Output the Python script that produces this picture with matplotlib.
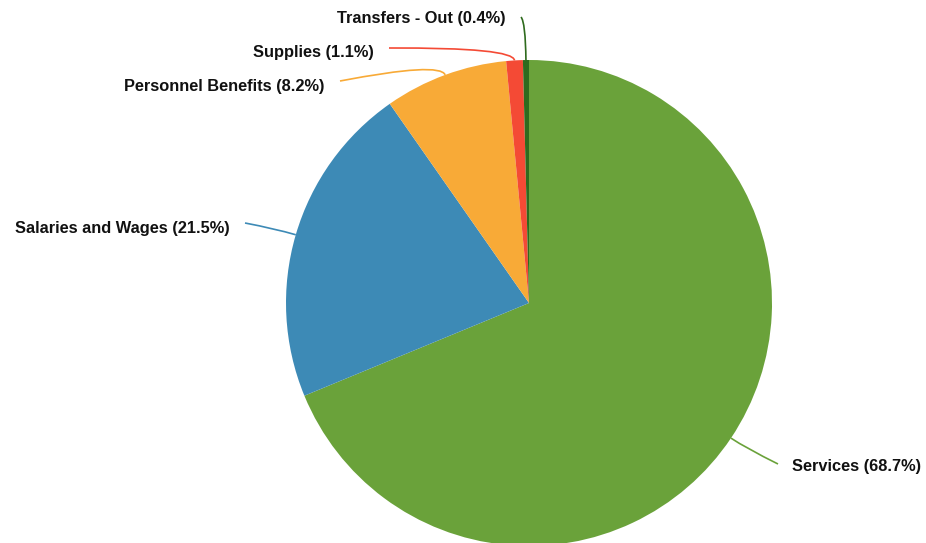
import numpy as np
import matplotlib
matplotlib.use("Agg")
import matplotlib.pyplot as plt
from matplotlib.path import Path
from matplotlib.patches import PathPatch

plt.rcParams["font.family"] = ["Liberation Sans", "DejaVu Sans"]

categories = ["Services", "Salaries and Wages", "Personnel Benefits", "Supplies", "Transfers - Out"]
shares = [68.7, 21.5, 8.2, 1.1, 0.4]
colors = ["#6aa23a", "#3d8ab6", "#f8aa37", "#f44a35", "#2f6b1e"]

W, H = 926, 543
cx, cy, R = 529, H - 303, 243

# end of each leader line, label baseline centre, and elbow distance beyond the rim
line_ends = [(778, H - 464), (245, H - 223), (340, H - 81), (389, H - 48), (521, H - 17)]
label_y = [H - 466, H - 228, H - 86, H - 52, H - 19]
elbow = [18, 22, 14, 13, 38]

fig = plt.figure(figsize=(W / 100, H / 100), dpi=100)
ax = fig.add_axes([0, 0, 1, 1])
wedges, _ = ax.pie(shares, colors=colors, startangle=90, counterclock=False,
                   center=(cx, cy), radius=R, wedgeprops=dict(linewidth=0))
ax.set_xlim(0, W)
ax.set_ylim(0, H)
ax.set_aspect("equal")
ax.axis("off")

for w, name, val, col, end, ty, d in zip(wedges, categories, shares, colors, line_ends, label_y, elbow):
    mid = np.deg2rad((w.theta1 + w.theta2) / 2)
    p0 = (cx + R * np.cos(mid), cy + R * np.sin(mid))
    p1 = (cx + (R + d) * np.cos(mid), cy + (R + d) * np.sin(mid))
    path = Path([p0, p1, end], [Path.MOVETO, Path.CURVE3, Path.CURVE3])
    ax.add_patch(PathPatch(path, fill=False, edgecolor=col, linewidth=1.2))
    right = end[0] > cx
    tx = end[0] + 14 if right else end[0] - 15
    ax.text(tx, ty, f"{name} ({val}%)", ha="left" if right else "right",
            va="center", fontsize=11.8, fontweight="bold", color="#111111")

fig.savefig("out.png", dpi=100)
